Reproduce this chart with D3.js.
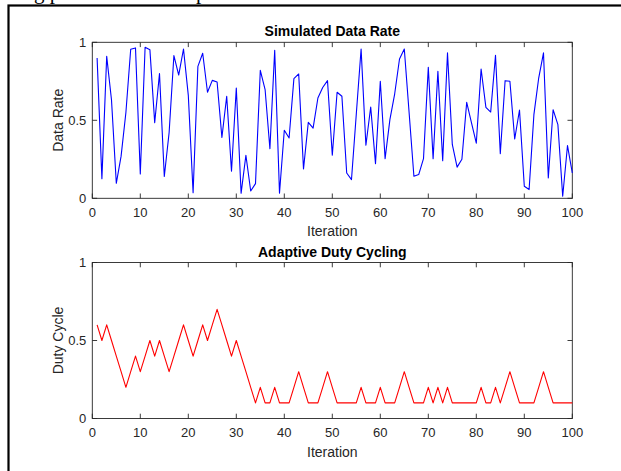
<!DOCTYPE html>
<html>
<head>
<meta charset="utf-8">
<script src="https://cdn.jsdelivr.net/npm/d3@7"></script>
<style>
  body { margin: 0; background: #fff; }
  svg { display: block; }
</style>
</head>
<body>
<div id="container"></div>
<script>
// values
var iterations = d3.range(1, 101);
var dataRate = [
  0.90, 0.126, 0.91, 0.63, 0.096, 0.27, 0.55, 0.955, 0.964, 0.156,
  0.968, 0.953, 0.485, 0.80, 0.14, 0.42, 0.915, 0.79, 0.957, 0.66,
  0.036, 0.846, 0.93, 0.68, 0.756, 0.746, 0.39, 0.654, 0.173, 0.707,
  0.032, 0.276, 0.047, 0.094, 0.82, 0.697, 0.318, 0.949, 0.032, 0.436,
  0.387, 0.767, 0.797, 0.188, 0.487, 0.45, 0.643, 0.71, 0.754, 0.276,
  0.68, 0.654, 0.162, 0.12, 0.54, 0.957, 0.34, 0.585, 0.222, 0.75,
  0.254, 0.504, 0.67, 0.893, 0.957, 0.55, 0.141, 0.152, 0.254, 0.84,
  0.254, 0.814, 0.241, 0.932, 0.345, 0.20, 0.25, 0.615, 0.483, 0.353,
  0.829, 0.583, 0.553, 0.917, 0.286, 0.754, 0.75, 0.38, 0.566, 0.077,
  0.056, 0.536, 0.771, 0.932, 0.13, 0.568, 0.472, 0.013, 0.338, 0.162
];
var dutyCycle = [
  0.6, 0.5, 0.6, 0.5, 0.4, 0.3, 0.2, 0.3, 0.4, 0.3,
  0.4, 0.5, 0.4, 0.5, 0.4, 0.3, 0.4, 0.5, 0.6, 0.5,
  0.4, 0.5, 0.6, 0.5, 0.6, 0.7, 0.6, 0.5, 0.4, 0.5,
  0.4, 0.3, 0.2, 0.1, 0.2, 0.1, 0.1, 0.2, 0.1, 0.1,
  0.1, 0.2, 0.3, 0.2, 0.1, 0.1, 0.1, 0.2, 0.3, 0.2,
  0.1, 0.1, 0.1, 0.1, 0.1, 0.2, 0.1, 0.1, 0.1, 0.2,
  0.1, 0.1, 0.1, 0.2, 0.3, 0.2, 0.1, 0.1, 0.1, 0.2,
  0.1, 0.2, 0.1, 0.2, 0.1, 0.1, 0.1, 0.1, 0.1, 0.1,
  0.2, 0.1, 0.1, 0.2, 0.1, 0.2, 0.3, 0.2, 0.1, 0.1,
  0.1, 0.1, 0.2, 0.3, 0.2, 0.1, 0.1, 0.1, 0.1, 0.1
];
var xTicks = [0, 10, 20, 30, 40, 50, 60, 70, 80, 90, 100];
var yTicks = [0, 0.5, 1];

var w = 621, h = 471;
var axColor = '#262626';
var font = 'Arial, "Liberation Sans", Helvetica, sans-serif';

var svg = d3.select('#container')
  .append('svg')
  .attr('width', w)
  .attr('height', h);

// page bits showing around the figure
svg.append('rect')
  .attr('x', 8.5).attr('y', 5.5)
  .attr('width', 700).attr('height', 600)
  .attr('fill', '#fff')
  .attr('stroke', '#000')
  .attr('stroke-width', 2.2);
svg.append('text')
  .attr('x', 34).attr('y', -1)
  .style('font-family', '"Liberation Serif", "Times New Roman", serif')
  .style('font-size', '21px')
  .text('g p');
svg.append('text')
  .attr('x', 196).attr('y', -1)
  .style('font-family', '"Liberation Serif", "Times New Roman", serif')
  .style('font-size', '21px')
  .text('p');

var x = d3.scaleLinear().domain([0, 100]).range([92.3, 572.3]);

function drawPanel(top, values, color, title, ylabel) {
  var y = d3.scaleLinear().domain([0, 1]).range([top + 156, top]);
  var g = svg.append('g');
  var tl = 4.8;

  // box
  g.append('rect')
    .attr('x', x(0)).attr('y', y(1))
    .attr('width', x(100) - x(0)).attr('height', y(0) - y(1))
    .attr('fill', '#fff')
    .attr('stroke', axColor)
    .attr('stroke-width', 0.9);

  // ticks (inward, all four sides)
  xTicks.forEach(function(t) {
    g.append('line').attr('x1', x(t)).attr('x2', x(t))
      .attr('y1', y(0)).attr('y2', y(0) - tl)
      .attr('stroke', axColor).attr('stroke-width', 0.9);
    g.append('line').attr('x1', x(t)).attr('x2', x(t))
      .attr('y1', y(1)).attr('y2', y(1) + tl)
      .attr('stroke', axColor).attr('stroke-width', 0.9);
    g.append('text')
      .attr('x', x(t)).attr('y', y(0) + 18.5)
      .attr('text-anchor', 'middle')
      .attr('fill', axColor)
      .style('font-family', font).style('font-size', '13px')
      .text(t);
  });
  yTicks.forEach(function(t) {
    g.append('line').attr('x1', x(0)).attr('x2', x(0) + tl)
      .attr('y1', y(t)).attr('y2', y(t))
      .attr('stroke', axColor).attr('stroke-width', 0.9);
    g.append('line').attr('x1', x(100)).attr('x2', x(100) - tl)
      .attr('y1', y(t)).attr('y2', y(t))
      .attr('stroke', axColor).attr('stroke-width', 0.9);
    g.append('text')
      .attr('x', x(0) - 6).attr('y', y(t) + 4.7)
      .attr('text-anchor', 'end')
      .attr('fill', axColor)
      .style('font-family', font).style('font-size', '13px')
      .text(t);
  });

  var line = d3.line()
    .x(function(d, i) { return x(iterations[i]); })
    .y(function(d) { return y(d); });

  g.append('path')
    .datum(values)
    .attr('d', line)
    .attr('fill', 'none')
    .attr('stroke', color)
    .attr('stroke-width', 1.1)
    .attr('stroke-linejoin', 'round');

  g.append('text')
    .attr('x', (x(0) + x(100)) / 2).attr('y', top - 6)
    .attr('text-anchor', 'middle')
    .attr('fill', '#000')
    .style('font-family', font).style('font-size', '14px').style('font-weight', 'bold')
    .text(title);

  g.append('text')
    .attr('x', (x(0) + x(100)) / 2).attr('y', y(0) + 38)
    .attr('text-anchor', 'middle')
    .attr('fill', axColor)
    .style('font-family', font).style('font-size', '14px')
    .text('Iteration');

  g.append('text')
    .attr('transform', 'translate(63,' + (top + 78) + ') rotate(-90)')
    .attr('text-anchor', 'middle')
    .attr('fill', axColor)
    .style('font-family', font).style('font-size', '14px')
    .text(ylabel);
}

drawPanel(42.3, dataRate, '#0000ff', 'Simulated Data Rate', 'Data Rate');
drawPanel(262.5, dutyCycle, '#ff0000', 'Adaptive Duty Cycling', 'Duty Cycle');
</script>
</body>
</html>
